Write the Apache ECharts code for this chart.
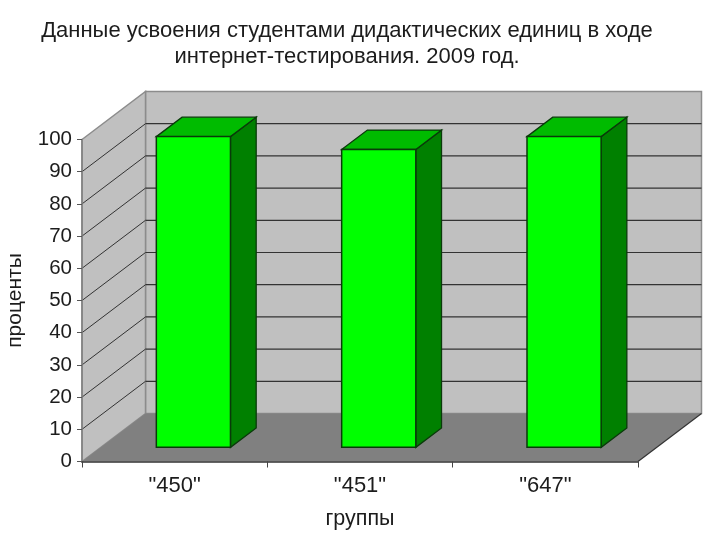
<!DOCTYPE html>
<html><head><meta charset="utf-8">
<style>html,body{margin:0;padding:0;background:#fff}#c{width:720px;height:540px}</style>
<script src="https://cdn.jsdelivr.net/npm/echarts@6/dist/echarts.min.js"></script>
</head><body><div id="c"></div>
<script>
var titleLines = ['Данные усвоения студентами дидактических единиц в ходе', 'интернет-тестирования. 2009 год.'];
var categories = ['"450"', '"451"', '"647"'];
var percents = [96.5, 92.5, 96.5];
var gridTicks = [10, 20, 30, 40, 50, 60, 70, 80, 90, 100];
var yName = 'проценты';
var xName = 'группы';

var DX = 63.5, DY = -48;
var Z0 = 0.295, Z1 = 0.70, BAR = 0.4;
var TXT = '#1c1c1c', FONT = '"Liberation Sans", Arial, sans-serif';
var EDGE = '#0a3a0a';

function poly(pts, fill, stroke, lw) {
  return { type: 'polygon', shape: { points: pts }, style: { fill: fill, stroke: stroke || null, lineWidth: lw || 1 } };
}
function line(a, b, stroke, lw) {
  return { type: 'line', shape: { x1: a[0], y1: a[1], x2: b[0], y2: b[1] }, style: { stroke: stroke, lineWidth: lw || 1 } };
}
var chart = echarts.init(document.getElementById('c'), null, { renderer: 'canvas' });
chart.setOption({
  animation: false,
  backgroundColor: '#ffffff',
  title: {
    text: titleLines.join('\n'), left: 347, top: 13, textAlign: 'center',
    padding: [5, 5, 5, 0],
    textStyle: { fontFamily: FONT, fontSize: 22, fontWeight: 'normal', color: TXT, lineHeight: 26 }
  },
  grid: { left: 82, top: 139.5, width: 556, height: 322, containLabel: false, outerBoundsMode: 'none' },
  xAxis: {
    type: 'category', data: categories, z: 6,
    name: xName, nameLocation: 'middle', nameGap: 47,
    nameTextStyle: { fontFamily: FONT, fontSize: 21.5, color: TXT },
    axisLine: { show: true, lineStyle: { color: '#333333', width: 1.5 } },
    axisTick: { show: true, length: 6, lineStyle: { color: '#444444' } },
    axisLabel: { fontFamily: FONT, fontSize: 22, color: TXT, margin: 13 },
    splitLine: { show: false }
  },
  yAxis: {
    type: 'value', min: 0, max: 100, interval: 10, z: 6,
    name: yName, nameLocation: 'middle', nameGap: 56, nameRotate: 90,
    nameTextStyle: { fontFamily: FONT, fontSize: 21, color: TXT },
    axisLine: { show: true, lineStyle: { color: '#808080', width: 1.5 } },
    axisTick: { show: true, length: 5, lineStyle: { color: '#555555' } },
    axisLabel: { fontFamily: FONT, fontSize: 20.5, color: TXT, margin: 10 },
    splitLine: { show: false }
  },
  series: [
    {
      type: 'custom', coordinateSystem: 'cartesian2d', clip: false, silent: true, z: 2,
      data: [[0, 0]],
      renderItem: function (params, api) {
        var o0 = api.coord([0, 0]), o1 = api.coord([0, 100]);
        var cs = params.coordSys;
        var l = cs.x, r = cs.x + cs.width, b = o0[1], t = o1[1];
        return {
          type: 'group',
          children: [
            poly([[l + DX, t + DY], [r + DX, t + DY], [r + DX, b + DY], [l + DX, b + DY]], '#c0c0c0', '#8c8c8c', 1.5),
            poly([[l, t], [l + DX, t + DY], [l + DX, b + DY], [l, b]], '#c0c0c0', '#8c8c8c', 1.5),
            poly([[l, b], [l + DX, b + DY], [r + DX, b + DY], [r, b]], '#808080', null),
            line([r, b], [r + DX, b + DY], '#333333', 1.2)
          ]
        };
      }
    },
    {
      type: 'custom', coordinateSystem: 'cartesian2d', clip: false, silent: true, z: 3,
      data: gridTicks.slice(0, 9).map(function (v) { return [0, v]; }),
      renderItem: function (params, api) {
        var p = api.coord([0, api.value(1)]);
        var cs = params.coordSys;
        var l = cs.x, r = cs.x + cs.width, y = p[1];
        return {
          type: 'group',
          children: [
            line([l, y], [l + DX, y + DY], '#333333', 1),
            line([l + DX, y + DY], [r + DX, y + DY], '#333333', 1.2)
          ]
        };
      }
    },
    {
      type: 'custom', coordinateSystem: 'cartesian2d', clip: false, silent: true, z: 4,
      data: percents.map(function (v, i) { return [i, v]; }),
      renderItem: function (params, api) {
        var i = api.value(0), v = api.value(1);
        var base = api.coord([i, 0]), top = api.coord([i, v]);
        var w = api.size([1, 0])[0] * BAR;
        var x0 = base[0] - w / 2 + DX * Z0, x1 = x0 + w;
        var yb = base[1] + DY * Z0, yt = top[1] + DY * Z0;
        var dx = DX * (Z1 - Z0), dy = DY * (Z1 - Z0);
        return {
          type: 'group',
          children: [
            poly([[x1, yt], [x1 + dx, yt + dy], [x1 + dx, yb + dy], [x1, yb]], '#008000', EDGE, 1.3),
            poly([[x0, yt], [x0 + dx, yt + dy], [x1 + dx, yt + dy], [x1, yt]], '#00bb00', EDGE, 1.3),
            poly([[x0, yt], [x1, yt], [x1, yb], [x0, yb]], '#00ff00', EDGE, 1.5)
          ]
        };
      }
    }
  ]
});
</script></body></html>
